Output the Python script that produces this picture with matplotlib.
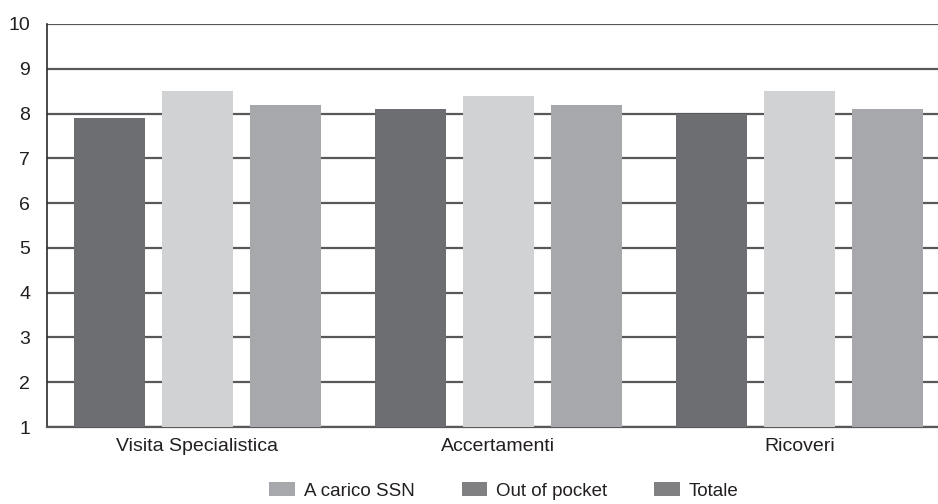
import matplotlib
matplotlib.use("Agg")
import matplotlib.pyplot as plt
import numpy as np
from matplotlib import font_manager
from matplotlib.patches import Patch

names = {f.name for f in font_manager.fontManager.ttflist}
family = "Liberation Sans Narrow" if "Liberation Sans Narrow" in names else "Liberation Sans"
plt.rcParams["font.family"] = [family, "DejaVu Sans"]

categories = ["Visita Specialistica", "Accertamenti", "Ricoveri"]
out_of_pocket = [7.9, 8.1, 8.0]
a_carico_ssn = [8.5, 8.4, 8.5]
totale = [8.2, 8.2, 8.1]

bar_colors = ["#6d6e71", "#d1d2d4", "#a7a8ab"]
legend_labels = ["A carico SSN", "Out of pocket", "Totale"]
legend_colors = ["#a7a8ab", "#808083", "#808083"]

fig = plt.figure(figsize=(9.38, 5.04), dpi=100)
ax = fig.add_axes([47 / 938, 1 - 427 / 504, 891 / 938, 403 / 504])

x = np.arange(len(categories))
step = 88 / 301
width = 71 / 301
for i, (vals, col) in enumerate(zip([out_of_pocket, a_carico_ssn, totale], bar_colors)):
    ax.bar(x + (i - 1) * step, np.array(vals) - 1, bottom=1, width=width,
           color=col, zorder=3)

ax.set_ylim(1, 10)
ax.set_xlim(-0.5, 2.5 - 12 / 301)
ax.set_yticks(range(1, 11))
ax.yaxis.grid(True, color="#58585a", linewidth=1.6, zorder=0)
ax.set_axisbelow(True)
for s in ["top", "right"]:
    ax.spines[s].set_visible(False)
ax.spines["left"].set_color("#2b2b2b")
ax.spines["bottom"].set_color("#58585a")
ax.spines["left"].set_linewidth(1.2)
ax.spines["bottom"].set_linewidth(1.6)
ax.tick_params(axis="y", length=0, pad=12, labelsize=14, colors="#231f20")
ax.tick_params(axis="x", length=0, pad=8, labelsize=14, colors="#231f20")
ax.set_xticks(x)
ax.set_xticklabels(categories)

handles = [Patch(facecolor=c, edgecolor="none") for c in legend_colors]
fig.legend(handles, legend_labels, loc="center", bbox_to_anchor=(504 / 938, 1 - 491 / 504),
           ncol=3, frameon=False, fontsize=13.5, handlelength=1.35, handleheight=0.75,
           handletextpad=0.5, columnspacing=2.5, labelcolor="#231f20")

fig.savefig("out.png", dpi=100)
